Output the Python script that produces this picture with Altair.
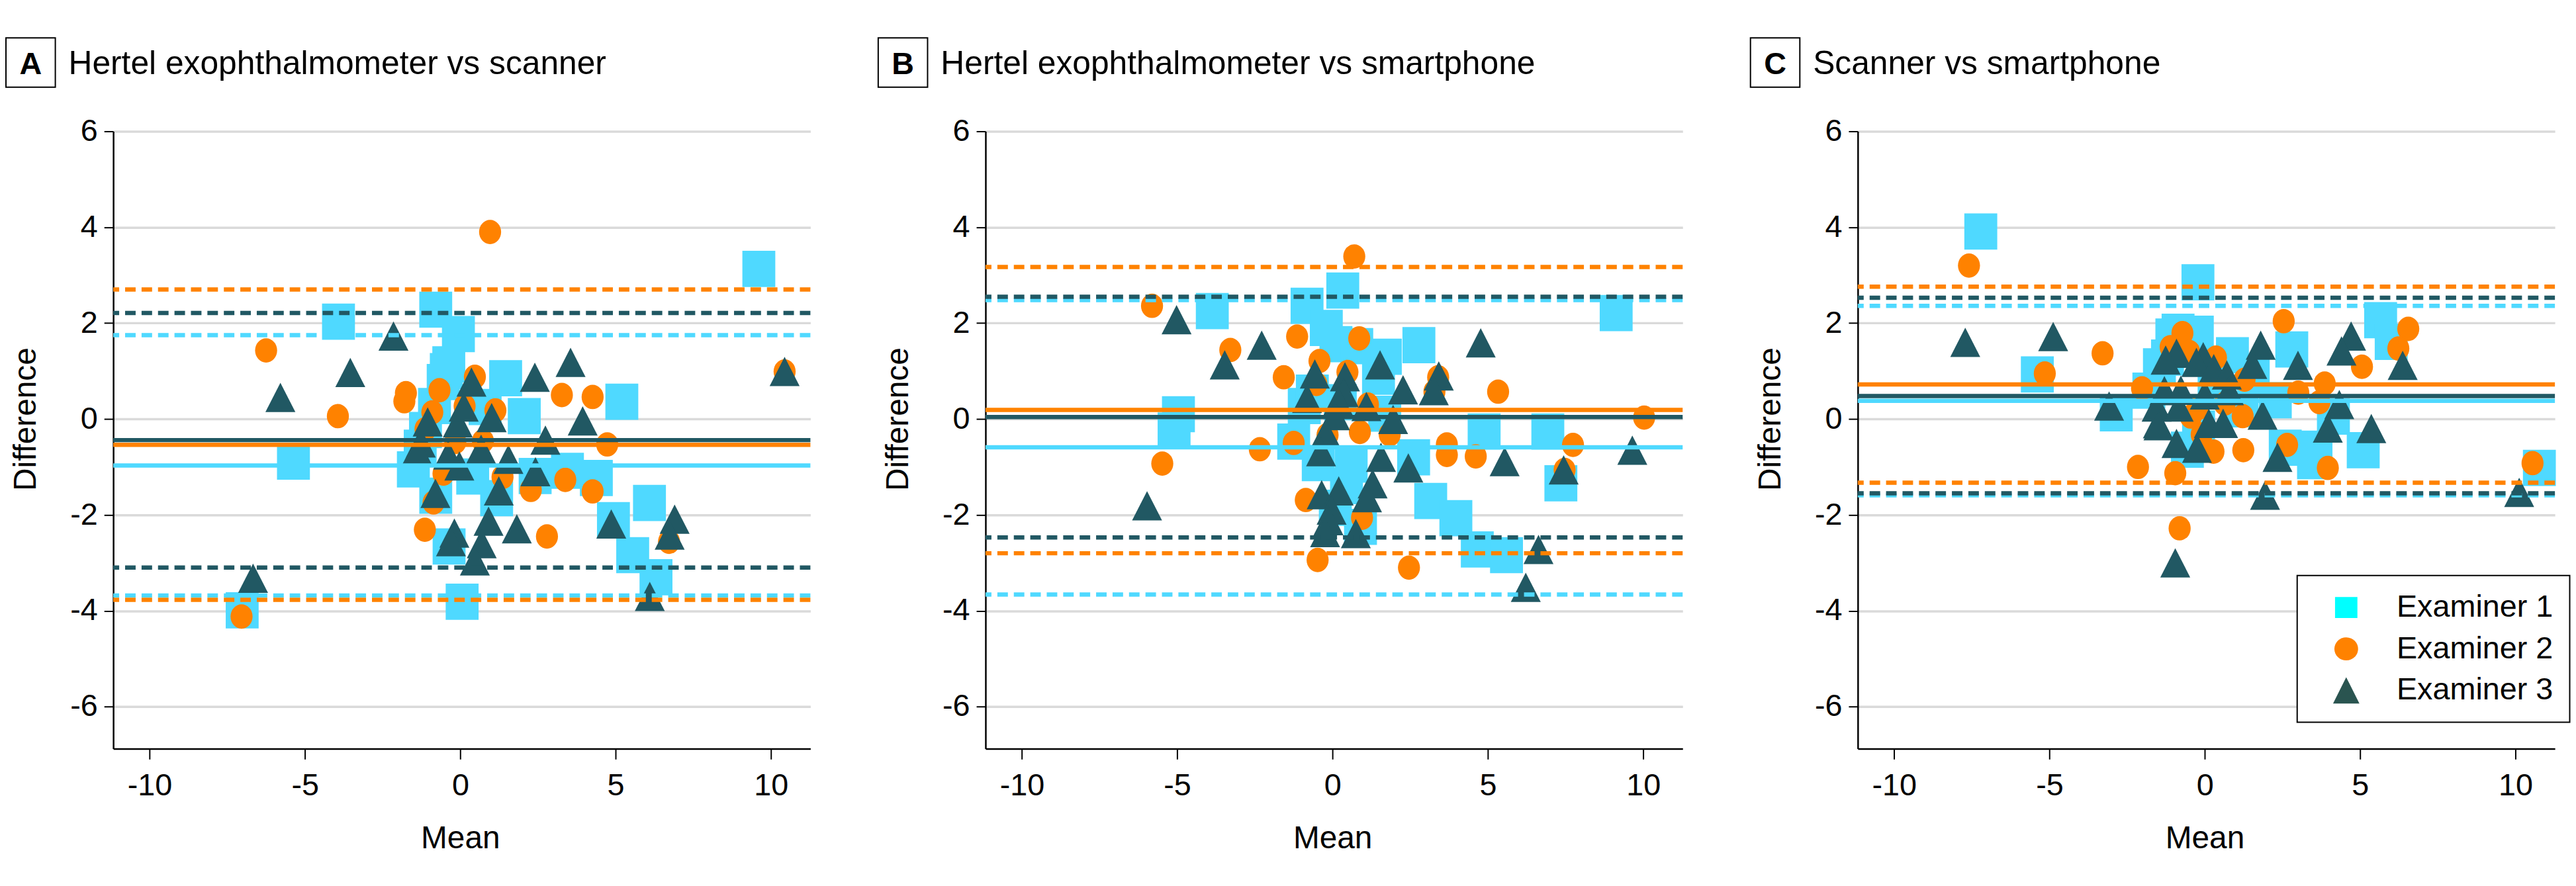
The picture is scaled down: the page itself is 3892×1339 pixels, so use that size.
import altair as alt
import pandas as pd

FONT = "Liberation Sans"
EXAMINERS = ["Examiner 1", "Examiner 2", "Examiner 3"]
POINT_COLORS = ["#4FD9FF", "#FF8200", "#215863"]
LEGEND_COLORS = ["#00FFFF", "#FF8200", "#2A5450"]
GRID_COLOR = "#DADADA"

PANEL_LETTERS = ["A", "B", "C"]
PANEL_TITLES = [
    "Hertel exophthalmometer vs scanner",
    "Hertel exophthalmometer vs smartphone",
    "Scanner vs smartphone",
]
X_TICKS = [-10, -5, 0, 5, 10]
Y_TICKS = [-6, -4, -2, 0, 2, 4, 6]
X_DOMAIN = [-11.17, 11.27]
Y_DOMAIN = [-6.875, 6]

# ---------------- Panel A: Hertel vs scanner ----------------
a1_x = [9.61, -3.92, -5.37, -7.02, 0.06, -0.79, -0.06, -0.37, -0.45, -0.55, -0.83, -1.12, -1.29, -1.51, 1.46,
        2.06, 5.20, 0.40, 1.17, -0.79, -0.36, 2.41, 3.45, 4.38, 4.93, 5.55, 6.09, 6.30, 0.80]
a1_y = [3.13, 2.03, -0.89, -3.99, -3.81, 2.28, 1.77, 1.14, 1.00, 0.77, 0.27, -0.23, -0.60, -1.05, 0.85,
        0.06, 0.36, -1.20, -1.65, -1.60, -2.66, -1.19, -1.08, -1.23, -2.11, -2.84, -1.75, -3.30, 0.25]
a2_x = [0.96, -6.25, -3.94, -7.04, 10.44, 3.27, 4.26, 4.73, 3.38, 4.26, 2.27, 2.79, -1.14, 6.72, 0.47,
        -1.75, -1.80, -0.67, -0.90, 0.14, 1.13, -1.12, -0.16, 0.73, -0.54, 1.36, -0.86]
a2_y = [3.90, 1.43, 0.06, -4.12, 0.99, 0.50, 0.46, -0.53, -1.27, -1.51, -1.48, -2.45, -2.31, -2.56, 0.88,
        0.54, 0.37, 0.60, 0.14, 0.27, 0.18, -0.21, -0.48, -0.46, -1.14, -1.21, -1.74]
a3_x = [-2.15, -3.54, -5.79, -6.67, 10.44, 3.55, 2.40, 3.94, 2.74, 4.86, 6.90, 6.74, 6.10, 1.82, 0.91,
        0.69, 0.47, -0.19, -0.30, -0.80, 1.24, 2.42, 1.55, -0.03, -0.39, 0.67, -1.27, -1.39, -1.05, -0.08,
        1.01, 0.11, 0.36]
a3_y = [1.73, 0.97, 0.45, -3.32, 0.99, 1.18, 0.87, -0.04, -0.44, -2.19, -2.09, -2.42, -3.70, -2.29, -2.13,
        -2.60, -2.96, -2.38, -2.56, -1.55, -1.50, -1.10, -0.84, -0.98, -0.75, -0.63, -0.50, -0.65, -0.06, -0.08,
        0.03, 0.25, 0.77]
a_mean = [-0.97, -0.54, -0.44]
a_low = [-3.68, -3.77, -3.10]
a_high = [1.75, 2.70, 2.21]

# ---------------- Panel B: Hertel vs smartphone ----------------
b1_x = [9.13, -3.87, -4.96, -5.10, -0.82, 0.33, -0.20, 0.11, 0.78, 1.70, 2.78, 1.48, -0.91, -0.65, 0.25,
        1.68, 4.88, 6.93, 7.35, 3.16, 3.97, 4.66, 5.60, 2.61, -1.25, -0.46, 0.60, 0.90, 0.09, 0.45]
b1_y = [2.21, 2.25, 0.10, -0.24, 2.36, 2.68, 1.90, 1.56, 1.52, 1.30, 1.54, 0.88, 0.27, 0.55, 0.35,
        0.11, -0.26, -0.26, -1.34, -1.71, -2.07, -2.72, -2.84, -0.80, -0.47, -0.92, -0.95, -2.25, -1.85, -1.40]
b2_x = [0.70, -5.81, -3.29, -1.14, 0.86, -0.42, 0.48, -1.57, 3.40, 3.28, 5.33, 10.03, -0.52, 1.14, 0.88,
        1.84, -0.16, -1.25, -2.34, -5.48, 3.68, 3.68, 4.61, 7.74, 7.47, -0.86, 0.95, -0.48, 2.46]
b2_y = [3.39, 2.36, 1.44, 1.72, 1.68, 1.21, 0.98, 0.87, 0.87, 0.57, 0.57, 0.03, 0.73, 0.30, -0.27,
        -0.32, -0.33, -0.50, -0.63, -0.93, -0.53, -0.75, -0.78, -0.54, -1.06, -1.69, -2.06, -2.94, -3.10]
b3_x = [-5.02, -2.28, -3.47, -5.97, 4.77, 1.53, 2.27, 3.42, 3.26, -0.57, -0.82, 0.40, 0.36, 0.18, 0.08,
        1.09, 1.95, -0.22, -0.37, 1.56, 2.44, 5.54, 9.65, 7.44, 1.29, 1.11, -0.35, 0.20, -0.03, -0.13,
        -0.24, 0.75, 6.63, 6.22]
b3_y = [2.07, 1.54, 1.13, -1.81, 1.59, 1.13, 0.61, 0.90, 0.59, 0.94, 0.43, 0.88, 0.55, 0.37, 0.07,
        0.26, -0.01, -0.30, -0.68, -0.80, -1.02, -0.89, -0.65, -1.06, -1.35, -1.64, -1.58, -1.50, -1.90, -2.12,
        -2.37, -2.39, -2.72, -3.51]
b_mean = [-0.59, 0.19, 0.04]
b_low = [-3.66, -2.80, -2.47]
b_high = [2.48, 3.17, 2.55]

# ---------------- Panel C: Scanner vs smartphone ----------------
c1_x = [-7.21, -0.22, -5.39, -2.85, 5.66, 6.00, 2.80, 5.10, 10.77, 2.59, 3.58, 3.50, -0.86, -0.24, -1.06,
        -1.20, -1.46, -1.80, 0.89, 1.56, 4.14, 2.27, -0.56, 0.30, -0.20, 1.20]
c1_y = [3.91, 2.85, 0.93, 0.12, 2.06, 1.61, 1.45, -0.65, -1.02, -0.60, -0.62, -0.88, 1.82, 1.78, 1.72,
        1.28, 1.10, 0.59, 1.33, 0.87, 0.05, 0.39, -0.64, 0.60, -0.20, 0.20]
c2_x = [-7.59, -5.15, -3.29, 2.54, 6.55, 6.23, 5.06, 3.86, 3.01, 3.69, -2.02, -0.72, -1.10, -0.50, 0.36,
        1.28, -0.20, -0.45, 0.64, 1.22, -0.10, 0.28, 1.24, 2.65, -2.15, -0.95, 3.96, -0.81, 10.55]
c2_y = [3.20, 0.95, 1.37, 2.04, 1.88, 1.47, 1.09, 0.74, 0.55, 0.35, 0.64, 1.79, 1.50, 1.40, 1.28,
        0.82, 0.23, 0.05, 0.32, 0.06, -0.32, -0.68, -0.65, -0.54, -1.00, -1.13, -1.02, -2.28, -0.92]
c3_x = [-7.71, -4.88, -3.08, -0.95, 1.94, 10.12, 6.37, 4.71, 4.40, 3.00, 1.80, 1.53, 5.36, 3.96, 4.33,
        2.34, 1.86, -0.91, -0.25, -1.51, 0.13, 0.59, -0.91, -1.26, -0.05, -0.27, 0.29, 0.71, -1.30, -0.77,
        0.78, -1.55, -0.84, 0.00, -1.49]
c3_y = [1.60, 1.72, 0.27, -3.00, -1.59, -1.53, 1.12, 1.73, 1.42, 1.12, 1.54, 1.14, -0.20, -0.19, 0.30,
        -0.80, 0.08, -0.51, -0.61, -0.10, -0.09, -0.09, 1.37, 1.23, 1.30, 1.18, 1.05, 0.92, 0.59, 0.60,
        0.59, 0.25, 0.25, 0.50, -0.14]
c_mean = [0.38, 0.72, 0.48]
c_low = [-1.59, -1.33, -1.55]
c_high = [2.36, 2.76, 2.53]


# ---------------- marker shapes (pixel units, used with size=4) ----------------
def ellipse(rx, ry):
    k = 0.5523
    return (
        f"M 0 {-ry} "
        f"C {k*rx:.2f} {-ry} {rx} {-k*ry:.2f} {rx} 0 "
        f"C {rx} {k*ry:.2f} {k*rx:.2f} {ry} 0 {ry} "
        f"C {-k*rx:.2f} {ry} {-rx} {k*ry:.2f} {-rx} 0 "
        f"C {-rx} {-k*ry:.2f} {-k*rx:.2f} {-ry} 0 {-ry} Z"
    )


SQUARE = "M -25 -27.5 L 25 -27.5 L 25 27.5 L -25 27.5 Z"
CIRCLE = ellipse(16.75, 18.5)
TRIANGLE = "M 0 -22.25 L 22.75 22.25 L -22.75 22.25 Z"
LEG_SQUARE = "M -17 -16 L 17 -16 L 17 16 L -17 16 Z"
LEG_CIRCLE = ellipse(18, 17.5)
LEG_TRIANGLE = "M 0 -20 L 20 20 L -20 20 Z"

PLOT_W, PLOT_H = 1059, 938

XAXIS = alt.Axis(
    values=X_TICKS, grid=False, title="Mean",
    domainColor="black", domainWidth=2.5, tickColor="black", tickWidth=2, tickSize=16,
    labelFont=FONT, labelFontSize=47, labelColor="black", labelBaseline="alphabetic", labelPadding=54,
    labelFlush=False, labelOverlap=False, labelExpr="'' + datum.value",
    titleFont=FONT, titleFontSize=48, titleFontWeight="normal", titleColor="black",
    titleY=151, titleX=527, titleBaseline="alphabetic",
)
YAXIS = alt.Axis(
    values=Y_TICKS, grid=True, gridColor=GRID_COLOR, gridWidth=3.5, gridOpacity=1, title="Difference",
    domainColor="black", domainWidth=2.5, tickColor="black", tickWidth=2, tickSize=14,
    labelFont=FONT, labelFontSize=47, labelColor="black", labelPadding=10,
    labelFlush=False, labelOverlap=False, labelExpr="'' + datum.value",
    titleFont=FONT, titleFontSize=48, titleFontWeight="normal", titleColor="black",
    titleAngle=270, titleX=-118, titleY=437, titleAlign="center", titleBaseline="alphabetic",
)

LEGEND = alt.Legend(
    title=None, orient="none", legendX=667.5, legendY=675, direction="vertical",
    padding=25, rowPadding=15, symbolOffset=26, labelOffset=53, symbolSize=4,
    symbolStrokeWidth=0, symbolOpacity=1, labelFont=FONT, labelFontSize=47, labelColor="black",
    labelLimit=600, strokeColor="black", fillColor="white",
)


def build_panel(k, xs, ys, means, lows, highs, with_legend):
    rows = []
    for ex, xv, yv in zip(EXAMINERS, xs, ys):
        for a, b in zip(xv, yv):
            rows.append({"examiner": ex, "mean": a, "diff": b})
    pts = pd.DataFrame(rows)
    mean_df = pd.DataFrame({"examiner": EXAMINERS, "diff": means})
    loa_df = pd.DataFrame({"examiner": EXAMINERS + EXAMINERS, "diff": lows + highs})
    ann = pd.DataFrame({"letter": [PANEL_LETTERS[k]], "title": [PANEL_TITLES[k]]})

    xsc = alt.Scale(domain=X_DOMAIN, nice=False, zero=False)
    ysc = alt.Scale(domain=Y_DOMAIN, nice=False, zero=False)
    csc = alt.Scale(domain=EXAMINERS, range=POINT_COLORS)
    ssc = alt.Scale(domain=EXAMINERS, range=[SQUARE, CIRCLE, TRIANGLE])

    x_enc = alt.X("mean:Q", scale=xsc, axis=XAXIS)
    y_enc = alt.Y("diff:Q", scale=ysc, axis=YAXIS)
    col = alt.Color("examiner:N", scale=csc, legend=None)

    points = alt.Chart(pts).mark_point(filled=True, opacity=1, size=4, strokeWidth=0).encode(
        x=x_enc, y=y_enc, color=col,
        shape=alt.Shape("examiner:N", scale=ssc, legend=None),
    )
    loa = alt.Chart(loa_df).mark_rule(strokeWidth=6.5, strokeDash=[16, 9]).encode(y=y_enc, color=col)
    mean = alt.Chart(mean_df).mark_rule(strokeWidth=6.5).encode(y=y_enc, color=col)

    box = alt.Chart(ann).mark_rect(fill="white", stroke="black", strokeWidth=2).encode(
        x=alt.value(-163), x2=alt.value(-88), y=alt.value(-142), y2=alt.value(-67)
    )
    letter = alt.Chart(ann).mark_text(
        font=FONT, fontSize=47, fontWeight="bold", align="center", baseline="alphabetic", color="black"
    ).encode(x=alt.value(-125.5), y=alt.value(-87), text="letter:N")
    title = alt.Chart(ann).mark_text(
        font=FONT, fontSize=50, align="left", baseline="alphabetic", color="black"
    ).encode(x=alt.value(-68), y=alt.value(-87), text="title:N")

    layers = [points, loa, mean, box, letter, title]
    if with_legend:
        leg = alt.Chart(pts).mark_point(filled=True, opacity=0, size=4).encode(
            x=x_enc, y=y_enc,
            color=alt.Color("examiner:N", scale=alt.Scale(domain=EXAMINERS, range=LEGEND_COLORS), legend=LEGEND),
            shape=alt.Shape("examiner:N",
                            scale=alt.Scale(domain=EXAMINERS, range=[LEG_SQUARE, LEG_CIRCLE, LEG_TRIANGLE]),
                            legend=LEGEND),
        )
        layers.append(leg)
    chart = alt.layer(*layers).properties(width=PLOT_W, height=PLOT_H)
    if with_legend:
        chart = chart.resolve_scale(color="independent", shape="independent")
    return chart


pA = build_panel(0, [a1_x, a2_x, a3_x], [a1_y, a2_y, a3_y], a_mean, a_low, a_high, False)
pB = build_panel(1, [b1_x, b2_x, b3_x], [b1_y, b2_y, b3_y], b_mean, b_low, b_high, False)
pC = build_panel(2, [c1_x, c2_x, c3_x], [c1_y, c2_y, c3_y], c_mean, c_low, c_high, True)

chart = (
    alt.hconcat(pA, pB, pC, spacing=266, bounds="flush")
    .resolve_scale(color="independent", shape="independent")
    .properties(padding={"left": 0, "top": 45, "right": 0, "bottom": 0}, background="white")
    .configure_view(stroke=None)
    .configure_legend(strokeWidth=2)
)

chart.save("out.html", embed_options={"renderer": "svg", "actions": False})
